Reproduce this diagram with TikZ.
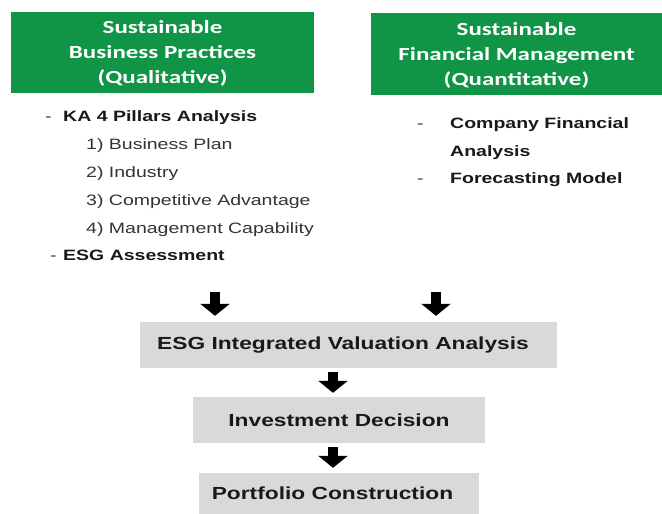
\documentclass[tikz,border=0pt]{standalone}
\usepackage{fontspec}
\setmainfont[FakeStretch=1.3]{Liberation Sans}
\newfontfamily\hdrfont[FakeStretch=1.35]{Carlito}
\usepackage{xcolor}
\usepackage{tikz}
\usetikzlibrary{calc}
\usetikzlibrary{arrows.meta}
\definecolor{esggreen}{RGB}{16,148,70}
\definecolor{boxgray}{RGB}{217,217,217}
\definecolor{itemgray}{RGB}{51,51,51}
\tikzset{
	greenbox/.style={fill=esggreen, draw=none, text=white, align=center,
		font=\hdrfont\bfseries\fontsize{18.5}{25}\selectfont, inner sep=0pt, text depth=0pt},
	graybox/.style={fill=boxgray, draw=none, text=black!90,
		font=\bfseries\fontsize{17.5}{20}\selectfont, inner sep=0pt},
	listbold/.style={anchor=base west, inner sep=0pt, text=black!90,
		font=\bfseries\fontsize{15}{18}\selectfont},
	listitem/.style={anchor=base west, inner sep=0pt, text=itemgray,
		font=\fontsize{15}{18}\selectfont},
	blockarrow/.style={line width=10pt, black, -{Triangle[width=29pt,length=12pt]}}
}

\begin{document}
\begin{tikzpicture}[x=1pt, y=-1pt]
	\useasboundingbox (0,0) rectangle (662,514);
	
	% Titoli
	\node[greenbox, minimum width=303pt, minimum height=81pt] (qual) at (162.5,52.5)
		{Sustainable\\Business Practices\\(Qualitative)};
	\node[greenbox, minimum width=291pt, minimum height=82pt] (quant) at (516.5,54)
		{Sustainable\\Financial Management\\(Quantitative)};
	
	% Lista sinistra
	\node[listitem] (d1) at (45,121) {-};
	\node[listbold] (ka) at (63,121) {KA 4 Pillars Analysis};
	\node[listitem] (p1) at (86,149) {1) Business Plan};
	\node[listitem] (p2) at (86,177) {2) Industry};
	\node[listitem] (p3) at (86,205) {3) Competitive Advantage};
	\node[listitem] (p4) at (86,233) {4) Management Capability};
	\node[listitem] (d2) at (50,260) {-};
	\node[listbold] (esg) at (63,260) {ESG Assessment};
	
	% Lista destra
	\node[listitem] (d3) at (417,128) {-};
	\node[listbold] (cfa) at (450,128) {Company Financial};
	\node[listbold] (cfb) at (450,156) {Analysis};
	\node[listitem] (d4) at (417,183) {-};
	\node[listbold] (fm) at (450,183) {Forecasting Model};
	
	% Processo
	\node[graybox, minimum width=417pt, minimum height=46pt] (val) at (348.5,345)
		{ESG Integrated Valuation Analysis\hspace*{11pt}};
	\node[graybox, minimum width=292pt, minimum height=46pt] (inv) at (339,420)
		{Investment Decision};
	\node[graybox, minimum width=280pt, minimum height=41pt] (port) at (339,493.5)
		{Portfolio Construction\hspace*{13pt}};
	
	%% Frecce
	\coordinate[](la) at (215,292);
	\coordinate[](ra) at (436,292);
	\coordinate[](mid) at (333,0);
	\draw[blockarrow, shorten >=6pt] (la) -- (la |- val.north);
	\draw[blockarrow, shorten >=6pt] (ra) -- (ra |- val.north);
	\draw[blockarrow, shorten <=4pt, shorten >=4pt] (val.south -| mid) -- (inv.north -| mid);
	\draw[blockarrow, shorten <=4pt, shorten >=5pt] (inv.south -| mid) -- (port.north -| mid);
	
\end{tikzpicture}
\end{document}
